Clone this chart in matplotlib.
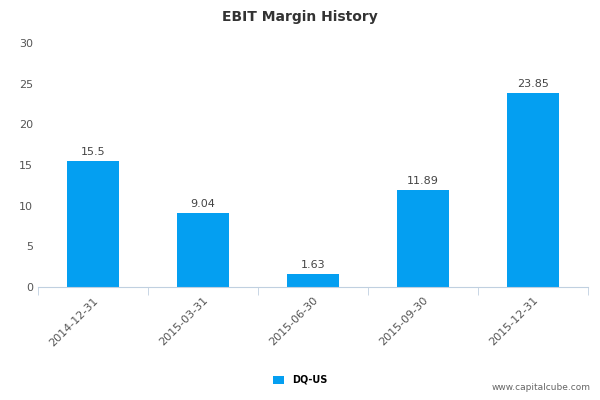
import matplotlib.pyplot as plt
import numpy as np

categories = ['2014-12-31', '2015-03-31', '2015-06-30', '2015-09-30', '2015-12-31']
values = [15.5, 9.04, 1.63, 11.89, 23.85]
value_labels = ['15.5', '9.04', '1.63', '11.89', '23.85']
series_name = 'DQ-US'
bar_color = '#049ff1'

fig = plt.figure(figsize=(6, 4), dpi=100)
ax = fig.add_axes([0.063, 0.2825, 0.917, 0.61])

x = np.arange(len(categories))
ax.bar(x, values, width=0.47, color=bar_color, label=series_name, zorder=2)
for xi, v, t in zip(x, values, value_labels):
    ax.text(xi, v + 0.5, t, ha='center', va='bottom', fontsize=8, color='#444444')

ax.set_xlim(-0.5, len(categories) - 0.5)
ax.set_ylim(0, 30)
ax.set_yticks([0, 5, 10, 15, 20, 25, 30])
ax.tick_params(axis='y', length=0, labelsize=8, labelcolor='#555555')
ax.set_xticks(x)
ax.set_xticklabels(categories, rotation=45, ha='right', rotation_mode='anchor',
                   fontsize=8, color='#555555')
ax.tick_params(axis='x', length=0, pad=6)
ax.set_xticks(np.arange(-0.5, len(categories)), minor=True)
ax.tick_params(axis='x', which='minor', length=6, color='#c0d0e0')

for s in ['top', 'right', 'left']:
    ax.spines[s].set_visible(False)
ax.spines['bottom'].set_color('#c0d0e0')

fig.suptitle('EBIT Margin History', y=0.975, fontsize=10, fontweight='bold', color='#333333')
fig.legend(loc='center', bbox_to_anchor=(0.5, 0.05), frameon=False, fontsize=7,
           handlelength=1.2, handleheight=0.9, prop={'weight': 'bold', 'size': 7})
fig.text(0.985, 0.02, 'www.capitalcube.com', ha='right', va='bottom', fontsize=6.5, color='#666666')

fig.savefig('out.png', dpi=100)
